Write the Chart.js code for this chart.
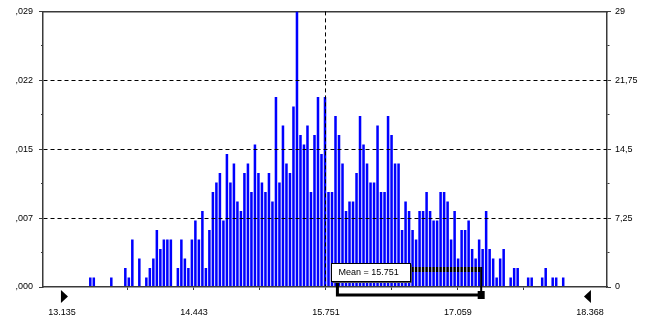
<!DOCTYPE html>
<html>
<head>
<meta charset="utf-8">
<script src="https://cdn.jsdelivr.net/npm/chart.js@4"></script>
<style>
  html, body { margin: 0; padding: 0; background: #ffffff; }
  #wrap { width: 650px; height: 322px; position: relative; }
</style>
</head>
<body>
<div id="wrap"><canvas id="c" width="650" height="322"></canvas></div>
<script>
// ---- Data (frequency per cell, 1,000 trials) ----
const leadingEmptyCells = [0,0,0,0,0,0,0,0,0,0,0,0,0];
const tailLeftCounts = [1,1,0,0,0,0,1,0,0,0,2,1,5,0,3,0,1,2,3,6,4,5,5,5,0,2,5,3,2,5,7,5,8,2,6];
const centreLeftCounts = [10,11,12,7,14,11,13,9,8,12,13,10,15,12,11,10,12,9,20,11,17,13,12,19,29,16,15,17];
const centreRightCounts = [10,16,20,14,20,10,10,18,16,13,8,9,9,12,18,15,13,11,11,17,10,10,18,16,13,13];
const tailRightCounts = [6,9,8,6,5,8,8,10,8,7,7,10,10,9,5,8,3,6,6,7,4,3,5,4,8,4,3,1,3,4,0,1,2,2,0,0,1,1,0,0,1,2,0,1,1,0,1];
const trailingEmptyCells = [0,0,0,0,0,0,0,0,0,0,0,0];

const xTickValues = [13.135, 14.443, 15.751, 17.059, 18.368];
const xTickLabels = ['13.135', '14.443', '15.751', '17.059', '18.368'];
const countTicks = [0, 7.25, 14.5, 21.75, 29];
const probabilityLabels = [',000', ',007', ',015', ',022', ',029'];
const frequencyLabels = ['0', '7,25', '14,5', '21,75', '29'];
const meanValue = 15.751;
const meanLabel = 'Mean = 15.751';
const grabberValues = [13.135, 18.368];
const bracketEndValue = 17.29;

const binCounts = [].concat(leadingEmptyCells, tailLeftCounts, centreLeftCounts,
                            centreRightCounts, tailRightCounts, trailingEmptyCells);

// ---- helpers ----
const near = (a, b) => Math.abs(a - b) < 1e-6;
const withMidpoints = (arr) => arr.flatMap((v, i) => i ? [(arr[i - 1] + v) / 2, v] : [v]);
const majorIndex = (arr, v) => arr.findIndex(t => near(t, v));

const AXIS_COLOR = '#3a3a3a';
Chart.defaults.font.family = "'Liberation Sans', Arial, sans-serif";
Chart.defaults.font.size = 9;
Chart.defaults.color = '#000000';

const decorations = {
  id: 'decorations',
  afterDatasetsDraw(chart) {
    const { ctx, scales: { x, y } } = chart;
    const base = y.getPixelForValue(0);
    const xs = x.getPixelForValue(meanValue) + 11;
    const xe = x.getPixelForValue(bracketEndValue);
    ctx.save();
    ctx.globalCompositeOperation = 'source-atop';
    ctx.fillStyle = '#000000';
    ctx.fillRect(xs, base - 20, xe - xs, 5);
    ctx.restore();
  },
  afterDraw(chart) {
    const { ctx, scales: { x, y } } = chart;
    const base = y.getPixelForValue(0);
    const mx = x.getPixelForValue(meanValue);
    const xe = x.getPixelForValue(bracketEndValue);
    ctx.save();
    // bracket
    ctx.strokeStyle = '#000';
    ctx.lineWidth = 3;
    ctx.beginPath();
    ctx.moveTo(mx + 11.5, base - 6);
    ctx.lineTo(mx + 11.5, base + 8);
    ctx.lineTo(xe, base + 8);
    ctx.stroke();
    ctx.lineWidth = 2;
    ctx.beginPath();
    ctx.moveTo(xe, base - 20);
    ctx.lineTo(xe, base + 6);
    ctx.stroke();
    ctx.fillStyle = '#000';
    ctx.fillRect(xe - 3.5, base + 4, 7, 8);
    // label box
    const bx = Math.round(mx) + 5.5, by = base - 23.5, bw = 79, bh = 18;
    ctx.fillStyle = '#ffffff';
    ctx.fillRect(bx, by, bw, bh);
    ctx.lineWidth = 1;
    ctx.strokeStyle = '#000';
    ctx.strokeRect(bx, by, bw, bh);
    ctx.strokeStyle = '#555';
    ctx.beginPath();
    ctx.moveTo(bx + 1, by + bh + 1);
    ctx.lineTo(bx + bw + 1, by + bh + 1);
    ctx.lineTo(bx + bw + 1, by + 1);
    ctx.stroke();
    ctx.fillStyle = '#000';
    ctx.font = "9px 'Liberation Sans', Arial, sans-serif";
    ctx.textBaseline = 'middle';
    ctx.textAlign = 'left';
    ctx.fillText(meanLabel, bx + 7, by + bh / 2 + 0.5);
    // certainty grabbers
    const gl = x.getPixelForValue(grabberValues[0]);
    const gr = x.getPixelForValue(grabberValues[1]);
    ctx.beginPath();
    ctx.moveTo(gl - 1, base + 3);
    ctx.lineTo(gl - 1, base + 16);
    ctx.lineTo(gl + 6, base + 9.5);
    ctx.closePath();
    ctx.fill();
    ctx.beginPath();
    ctx.moveTo(gr + 1, base + 3);
    ctx.lineTo(gr + 1, base + 16);
    ctx.lineTo(gr - 6, base + 9.5);
    ctx.closePath();
    ctx.fill();
    ctx.restore();
  }
};

new Chart(document.getElementById('c'), {
  type: 'bar',
  data: {
    labels: binCounts.map((_, i) => String(i)),
    datasets: [{
      data: binCounts,
      xAxisID: 'xb',
      yAxisID: 'y',
      backgroundColor: '#0000ff',
      borderWidth: 0,
      barPercentage: 0.72,
      categoryPercentage: 1
    }]
  },
  options: {
    responsive: false,
    animation: false,
    devicePixelRatio: 1,
    layout: { padding: 0 },
    plugins: { legend: { display: false }, tooltip: { enabled: false } },
    scales: {
      xb: { type: 'category', position: 'bottom', display: false, offset: true },
      x: {
        type: 'linear', position: 'bottom', min: 12.947, max: 18.537, offset: false,
        afterBuildTicks: s => { s.ticks = withMidpoints(xTickValues).map(v => ({ value: v })); },
        afterFit: s => { s.height = 35; },
        ticks: {
          autoSkip: false, maxRotation: 0, minRotation: 0, padding: 17,
          callback: v => { const i = majorIndex(xTickValues, v); return i >= 0 ? xTickLabels[i] : ''; }
        },
        grid: {
          offset: false,
          z: 1,
          tickLength: 3,
          color: c => (c.tick && near(c.tick.value, meanValue)) ? '#000000' : 'rgba(0,0,0,0)',
          tickColor: c => (c.tick && (near(c.tick.value, grabberValues[0]) || near(c.tick.value, grabberValues[1]))) ? 'rgba(0,0,0,0)' : AXIS_COLOR,
          lineWidth: 1
        },
        border: { display: true, color: AXIS_COLOR, width: 1.5, dash: [4, 3], z: 1 }
      },
      xTop: {
        type: 'linear', position: 'top', min: 12.947, max: 18.537, offset: false,
        ticks: { display: false },
        grid: { display: false, drawTicks: false, offset: false },
        border: { display: true, color: AXIS_COLOR, width: 1.5 },
        afterFit: s => { s.height = 9; }
      },
      y: {
        type: 'linear', position: 'left', min: 0, max: 29,
        afterBuildTicks: s => { s.ticks = withMidpoints(countTicks).map(v => ({ value: v })); },
        afterFit: s => { s.width = 43; },
        ticks: {
          padding: 6,
          callback: v => { const i = majorIndex(countTicks, v); return i >= 0 ? probabilityLabels[i] : ''; }
        },
        grid: {
          z: 1,
          tickLength: 4,
          lineWidth: 1,
          color: c => {
            const v = c.tick ? c.tick.value : 0;
            const i = majorIndex(countTicks, v);
            return (i > 0 && i < countTicks.length - 1) ? '#000000' : 'rgba(0,0,0,0)';
          },
          tickColor: AXIS_COLOR,
          tickBorderDash: c => (c.tick && majorIndex(countTicks, c.tick.value) >= 0) ? [] : [2, 2],
          tickBorderDashOffset: c => (c.tick && majorIndex(countTicks, c.tick.value) >= 0) ? 0 : 2
        },
        border: { display: true, color: AXIS_COLOR, width: 1.5, dash: [4, 3], z: 1 }
      },
      y2: {
        type: 'linear', position: 'right', min: 0, max: 29,
        afterBuildTicks: s => { s.ticks = withMidpoints(countTicks).map(v => ({ value: v })); },
        afterFit: s => { s.width = 43; },
        ticks: {
          padding: 4,
          callback: v => { const i = majorIndex(countTicks, v); return i >= 0 ? frequencyLabels[i] : ''; }
        },
        grid: {
          drawOnChartArea: false,
          tickLength: 4,
          tickColor: AXIS_COLOR,
          tickBorderDash: c => (c.tick && majorIndex(countTicks, c.tick.value) >= 0) ? [] : [2, 2]
        },
        border: { display: true, color: AXIS_COLOR, width: 1.5 }
      }
    }
  },
  plugins: [decorations]
});
</script>
</body>
</html>
